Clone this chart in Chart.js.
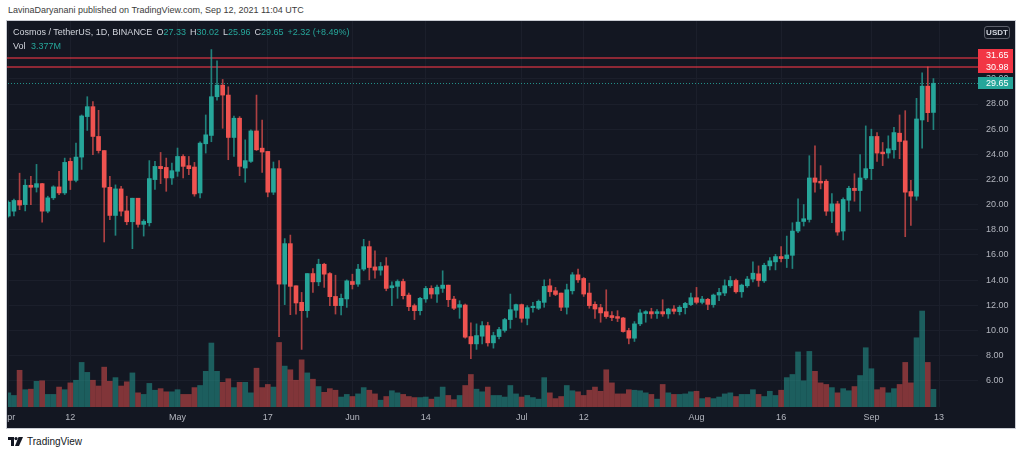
<!DOCTYPE html>
<html><head><meta charset="utf-8">
<script src="https://cdn.jsdelivr.net/npm/chart.js@4.4.1/dist/chart.umd.min.js"></script>
<style>
html,body{margin:0;padding:0;background:#fff;width:1024px;height:455px;overflow:hidden;font-family:"Liberation Sans",Arial,sans-serif;}
#title{position:absolute;left:8px;top:5px;font-size:9px;color:#3c3c3c;white-space:nowrap;}
#panel{position:absolute;left:6px;top:20px;width:1010px;height:409px;box-sizing:border-box;border:1px solid #c9ccd3;background:#131722;overflow:hidden;}
#c{position:absolute;left:0;top:0;}
.hdr{position:absolute;left:6px;font-size:9px;color:#d1d4dc;white-space:nowrap;}
.t{color:#26a69a}
.g{margin-left:4px}
#usdt{position:absolute;left:977px;top:5px;width:26px;height:13px;box-sizing:border-box;border:1px solid #5d606b;border-radius:3px;font-size:8px;font-weight:bold;color:#d1d4dc;text-align:center;line-height:11px;}
#foot{position:absolute;left:8px;top:435px;height:12px;display:flex;align-items:center;font-size:10px;color:#131722;}
#foot svg{margin-right:4px}
</style></head>
<body>
<div id="title">LavinaDaryanani published on TradingView.com, Sep 12, 2021 11:04 UTC</div>
<div id="panel">
  <canvas id="c" width="1008" height="407"></canvas>
  <div class="hdr" style="top:6px" id="hdr1"></div>
  <div class="hdr" style="top:20px" id="hdr2"></div>
  <div id="usdt">USDT</div>
</div>
<div id="foot"><svg width="15" height="9" viewBox="0 0 15 9"><path d="M0 0h6v9h-3v-6h-3z" fill="#131722"/><circle cx="8" cy="1.6" r="1.6" fill="#131722"/><path d="M10.5 0h4.5l-4 9h-4z" fill="#131722"/></svg>TradingView</div>
<script>
// ---- data (Cosmos / TetherUS, 1D, Binance), day index 0 = 2021-04-01 ----
const O=[19.09,19.48,20.33,20.00,21.54,21.38,21.67,19.48,20.54,21.41,
20.93,23.44,21.93,23.78,27.00,27.79,25.42,24.30,21.38,19.14,
21.25,19.50,18.64,20.51,18.43,18.56,21.99,23.04,22.96,22.12,
22.65,23.83,23.10,22.99,20.93,24.84,25.50,28.58,29.50,28.71,
25.34,26.87,22.91,23.44,25.86,24.49,24.23,20.99,22.86,13.68,
16.90,13.55,12.23,11.57,14.52,13.86,15.26,14.52,12.70,11.97,
12.50,13.89,13.68,14.87,16.66,15.05,14.79,15.13,13.39,13.50,
13.89,12.81,11.97,11.57,12.50,13.34,12.89,13.34,13.60,12.49,
11.84,12.02,9.51,8.93,9.54,10.38,9.01,9.51,10.00,10.86,
11.60,12.05,10.96,11.81,11.76,12.23,13.55,13.15,12.97,11.84,
13.15,14.42,14.13,12.97,12.07,11.81,11.49,11.18,11.10,10.99,
9.99,9.38,10.52,11.34,11.49,11.34,11.49,11.31,11.70,11.49,
11.81,12.05,12.60,12.23,12.47,12.05,12.81,12.97,13.55,13.97,
13.07,13.55,14.08,14.50,13.94,15.13,15.45,15.87,15.71,15.97,
17.90,18.66,18.82,22.12,21.86,21.86,19.48,20.06,17.90,20.35,
21.30,21.12,22.12,22.86,25.42,24.18,24.10,24.36,25.68,25.07,
21.04,20.67,26.73,29.42,27.33];
const H=[20.30,20.45,22.50,21.99,22.25,23.20,21.70,20.67,21.50,22.65,
23.70,23.70,24.90,27.13,28.58,28.20,27.50,24.30,22.25,21.57,
21.46,20.67,20.51,20.51,18.80,23.50,23.44,24.15,23.70,23.30,
24.50,23.97,23.83,23.36,25.00,27.13,32.33,31.43,29.95,29.37,
27.05,27.00,25.15,25.94,28.71,26.73,24.23,23.39,23.50,17.30,
17.58,13.55,13.02,14.52,14.92,15.66,15.34,14.60,14.39,12.89,
14.02,14.47,15.26,17.24,17.10,16.32,15.40,15.79,13.86,14.02,
14.08,12.97,12.10,12.63,13.50,13.55,13.60,14.74,13.60,12.70,
12.36,12.10,10.60,10.52,10.70,10.65,9.86,10.25,10.96,12.89,
12.10,12.10,11.97,12.23,12.42,14.02,14.08,13.42,12.97,13.68,
14.60,14.87,14.21,13.76,12.28,12.07,13.23,11.49,11.57,11.04,
10.17,10.70,11.65,11.57,11.76,11.65,12.44,11.76,11.97,11.97,
12.23,12.97,13.42,12.70,12.55,12.89,13.34,14.02,14.29,14.08,
13.68,14.29,15.45,15.13,15.34,15.79,16.05,16.66,17.50,18.56,
20.46,20.01,23.89,24.68,23.10,21.99,20.88,20.27,20.54,21.46,
22.46,23.97,26.26,26.00,25.73,24.94,25.47,26.15,27.13,27.47,
21.93,28.45,30.48,30.95,30.02];
const L=[19.00,19.10,19.60,19.50,20.00,21.00,18.60,19.35,20.40,20.80,
20.80,21.20,21.80,22.80,25.90,23.97,24.10,17.03,18.80,17.56,
19.10,18.40,16.50,18.20,17.50,18.30,21.20,21.67,21.06,21.60,
22.25,22.12,22.38,20.67,20.54,24.10,25.00,28.30,26.07,23.57,
23.83,22.30,21.78,23.36,24.30,22.57,20.62,20.80,9.51,12.05,
11.25,11.30,8.49,11.04,13.02,13.55,13.42,11.97,11.30,11.23,
11.83,13.29,13.50,14.74,14.02,14.16,14.39,13.15,11.97,12.55,
12.50,11.57,10.86,11.23,12.23,12.55,12.23,13.02,11.89,11.65,
10.96,9.38,7.75,8.49,8.93,8.75,8.59,9.33,9.86,10.17,
11.04,10.65,10.44,11.44,11.65,11.84,12.70,12.76,11.57,11.30,
12.89,13.81,12.70,11.76,10.96,10.65,10.96,10.78,10.70,9.86,
8.93,9.12,10.38,10.65,10.96,10.96,11.12,10.96,11.31,11.23,
11.31,11.97,12.10,12.10,11.65,11.84,12.36,12.76,13.42,12.97,
12.63,13.42,13.86,13.50,13.81,14.81,14.81,15.45,15.00,14.92,
17.77,18.30,18.61,20.99,21.25,19.14,18.56,17.56,17.19,19.46,
20.27,19.48,21.99,21.99,23.44,23.10,23.70,23.70,23.65,17.45,
18.35,20.35,24.49,26.60,25.96];
const C=[20.19,20.33,19.96,21.54,21.38,21.67,19.48,20.54,21.41,20.93,
23.36,21.93,23.78,27.05,27.79,25.42,24.30,21.38,19.14,21.25,
19.48,18.64,20.51,18.43,18.67,22.07,23.04,22.86,22.12,22.70,
23.83,23.04,22.86,20.85,24.89,25.55,28.58,29.50,28.71,25.34,
26.87,23.04,23.50,25.86,24.36,24.18,20.99,22.86,13.68,16.90,
13.50,12.18,11.57,14.52,13.86,15.26,14.47,12.68,11.97,12.55,
13.94,13.65,14.87,16.66,15.00,14.79,15.08,13.34,13.55,13.89,
12.76,11.89,11.57,12.55,13.34,12.89,13.44,13.60,12.44,11.76,
12.05,9.46,8.93,9.59,10.38,9.01,9.59,10.07,10.86,11.65,
12.05,10.96,11.81,11.92,12.31,13.50,13.07,12.86,11.84,13.23,
14.42,14.02,12.89,11.97,11.70,11.39,11.10,11.02,10.96,9.91,
9.38,10.52,11.39,11.49,11.31,11.49,11.31,11.70,11.52,11.84,
12.15,12.60,12.23,12.49,12.07,12.81,13.02,13.55,13.97,13.07,
13.60,14.08,14.55,13.97,15.18,15.53,15.87,15.71,16.00,17.90,
18.61,18.88,22.12,21.78,21.72,19.48,20.06,17.82,20.41,21.30,
21.12,22.12,22.86,25.42,24.10,24.04,24.44,25.73,25.02,20.99,
20.67,26.81,29.42,27.31,29.65];
// volume in millions
const V=[2.7,2.2,7.0,3.3,3.4,4.9,5.0,2.4,2.4,3.8,
3.3,4.6,5.1,8.5,6.6,5.1,4.0,7.6,4.9,5.6,
4.0,4.8,6.5,2.7,2.4,4.5,3.2,3.5,2.9,2.9,
3.3,2.4,2.4,3.7,4.1,6.8,12.2,6.8,4.7,5.4,
3.7,4.7,4.7,2.7,7.4,3.7,4.3,3.8,12.3,7.8,
7.1,5.1,9.0,6.5,5.3,3.9,2.8,3.5,3.2,1.9,
2.4,2.0,2.5,3.7,3.2,2.5,1.3,2.0,3.1,2.7,
2.4,2.0,1.8,1.8,1.9,1.5,1.9,3.8,2.2,1.4,
2.2,4.1,6.2,3.4,2.9,3.8,2.2,2.2,1.9,4.1,
2.5,1.9,2.2,1.8,1.5,5.6,2.7,1.6,2.0,4.1,
3.1,2.9,2.2,3.2,3.8,3.0,7.1,4.6,2.5,2.5,
3.3,3.2,3.1,2.7,2.4,1.5,4.3,2.7,2.4,2.4,
2.5,2.9,3.0,1.6,1.8,1.6,1.9,2.5,2.7,2.0,
2.4,2.4,3.3,2.4,2.0,3.0,2.2,3.2,5.6,6.2,
10.5,5.0,10.6,6.8,4.6,4.3,3.7,2.7,3.5,3.1,
3.9,6.0,11.3,7.3,3.3,3.7,2.7,3.5,4.3,8.5,
4.6,13.2,18.3,8.5,3.377];
const xTickIdx=[0,11,30,46,61,74,91,102,122,137,153,165];
const xTickLabels=['Apr','12','May','17','Jun','14','Jul','12','Aug','16','Sep','13'];
const priceTicks=[6,8,10,12,14,16,18,20,22,24,26,28,30];
const levelLines=[31.65,30.98];

// ---- header texts from the data ----
const n=C.length-1;
const chg=C[n]-O[n], pct=chg/O[n]*100;
document.getElementById('hdr1').innerHTML='Cosmos / TetherUS, 1D, BINANCE'+
 '<span class="g">O</span><span class="t">'+O[n].toFixed(2)+'</span>'+
 '<span class="g">H</span><span class="t">'+H[n].toFixed(2)+'</span>'+
 '<span class="g">L</span><span class="t">'+L[n].toFixed(2)+'</span>'+
 '<span class="g">C</span><span class="t">'+C[n].toFixed(2)+'</span>'+
 '<span class="g t">'+(chg>=0?'+':'')+chg.toFixed(2)+' ('+(chg>=0?'+':'')+pct.toFixed(2)+'%)</span>';
document.getElementById('hdr2').innerHTML='Vol <span class="t" style="margin-left:3px">'+V[n].toFixed(3)+'M</span>';

const UP='#26a69a', DN='#ef5350';
const up=C.map((c,i)=>c>=O[i]);
const bodyData=O.map((o,i)=>({x:i,y:[o,C[i]]}));
const wickData=O.map((o,i)=>({x:i,y:[L[i],H[i]]}));
const volData=V.map((v,i)=>({x:i,y:v}));
const FONT='"Liberation Sans", Arial, sans-serif';

const levelPlugin={id:'levels',
 beforeDatasetsDraw(ch){
  const {ctx,chartArea:a,scales:{y}}=ch;
  ctx.save();
  ctx.beginPath();ctx.rect(a.left-1,a.top,a.right-a.left+1,a.bottom-a.top);ctx.clip();
  ctx.strokeStyle='rgba(242,54,69,0.55)';ctx.lineWidth=2;
  levelLines.forEach(v=>{const py=Math.round(y.getPixelForValue(v));ctx.beginPath();ctx.moveTo(a.left-1,py);ctx.lineTo(a.right,py);ctx.stroke();});
  const lp=Math.round(y.getPixelForValue(C[n]))+0.5;
  ctx.strokeStyle='rgba(38,166,154,0.85)';ctx.lineWidth=1;ctx.setLineDash([1,2]);
  ctx.beginPath();ctx.moveTo(a.left,lp);ctx.lineTo(a.right,lp);ctx.stroke();
  ctx.restore();
 },
 afterDraw(ch){
  const {ctx,chartArea:a,scales:{y}}=ch;
  const x0=a.right,w=35,h=12;
  ctx.save();
  ctx.font='9px '+FONT;ctx.textBaseline='middle';ctx.textAlign='left';
  const yb=y.getPixelForValue(levelLines[1]);
  const ya=Math.min(y.getPixelForValue(levelLines[0]),yb-h);
  [[levelLines[0],ya],[levelLines[1],yb]].forEach(([v,py])=>{
    ctx.fillStyle='#f23645';ctx.fillRect(x0,Math.round(py-h/2),w,h);
    ctx.fillStyle='#ffffff';ctx.fillText(v.toFixed(2),x0+8,Math.round(py)+0.5);
  });
  const yg=y.getPixelForValue(C[n]);
  ctx.fillStyle=UP;ctx.fillRect(x0,Math.round(yg-h/2),w,h);
  ctx.fillStyle='#ffffff';ctx.fillText(C[n].toFixed(2),x0+8,Math.round(yg)+0.5);
  ctx.restore();
 }};

new Chart(document.getElementById('c').getContext('2d'),{
 type:'bar',
 data:{datasets:[
  {label:'body',data:bodyData,yAxisID:'y',backgroundColor:up.map(u=>u?UP:DN),barThickness:4,minBarLength:1,order:0,grouped:false},
  {label:'wick',data:wickData,yAxisID:'y',backgroundColor:up.map(u=>u?'rgba(38,166,154,0.75)':'rgba(239,83,80,0.7)'),barThickness:1,order:1,grouped:false},
  {label:'vol',data:volData,yAxisID:'yv',backgroundColor:up.map(u=>u?'rgba(38,166,154,0.5)':'rgba(239,83,80,0.5)'),barThickness:5,order:2,grouped:false}
 ]},
 options:{
  responsive:false,animation:false,devicePixelRatio:1,
  layout:{padding:{left:1,right:0,top:0,bottom:0}},
  plugins:{legend:{display:false},tooltip:{enabled:false}},
  scales:{
   x:{type:'linear',min:-0.053,max:171.9,offset:false,
      grid:{color:'#1b1f2b',drawTicks:false,offset:false},border:{display:false},
      afterBuildTicks(s){s.ticks=xTickIdx.map(v=>({value:v}));},
      afterFit(s){s.height=21;s.paddingLeft=0;s.paddingRight=0;},
      ticks:{autoSkip:false,maxRotation:0,minRotation:0,padding:5,color:'#b2b5be',font:{size:9,family:FONT},
             callback:(v,i)=>xTickLabels[i]}},
   y:{position:'right',min:3.91,max:34.60,
      grid:{color:'#1b1f2b',drawTicks:false},border:{display:false},
      afterBuildTicks(s){s.ticks=priceTicks.map(v=>({value:v}));},
      afterFit(s){s.width=37;s.paddingTop=0;s.paddingBottom=0;},
      ticks:{padding:8,color:'#b2b5be',font:{size:9,family:FONT},callback:v=>Number(v).toFixed(2)}},
   yv:{display:false,min:0,max:73.6}
  }
 },
 plugins:[levelPlugin]
});
</script>
</body></html>
